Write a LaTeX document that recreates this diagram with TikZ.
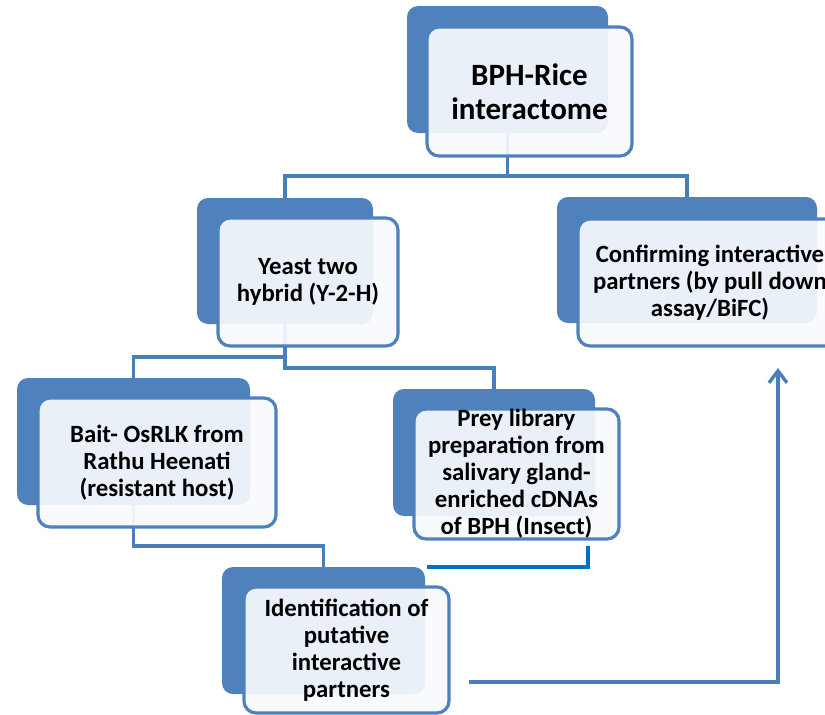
\documentclass[tikz,border=0pt]{standalone}
\usepackage{fontspec}
\setmainfont{Carlito}
\usetikzlibrary{arrows.meta,backgrounds}
\definecolor{boxblue}{HTML}{4F81BD}
\definecolor{linkblue}{HTML}{4A7EBB}
\definecolor{brightblue}{HTML}{0070C0}
\definecolor{frontfill}{HTML}{F8FAFD}
\begin{document}
\begin{tikzpicture}[x=1pt,y=-1pt,
  backbox/.style 2 args={draw=none, fill=boxblue, rounded corners=11pt,
    minimum width=#1pt, minimum height=#2pt, inner sep=0pt, outer sep=0pt},
  frontbox/.style 2 args={draw=boxblue, line width=3.2pt, fill=frontfill,
    fill opacity=0.92, text opacity=1, rounded corners=12pt, align=center,
    minimum width=#1pt, minimum height=#2pt, inner sep=0pt, outer sep=0pt,
    font=\bfseries\fontsize{24.8}{27}\selectfont},
  link/.style={draw=linkblue, line width=3.4pt},
  linkbright/.style={draw=brightblue, line width=3.4pt}]
\useasboundingbox (0,0) rectangle (825,715);
% back boxes
\node[backbox={201}{127}] (topB) at (507.5,69.5) {};
\node[backbox={176}{126}] (yeastB) at (285,261) {};
\node[backbox={260}{126}] (confB) at (687,260) {};
\node[backbox={233}{127}] (baitB) at (133.5,441.5) {};
\node[backbox={202}{127}] (preyB) at (494,452.5) {};
\node[backbox={203}{127}] (identB) at (323.5,630.5) {};
% front boxes
\node[frontbox={205}{129}, font=\bfseries\fontsize{31}{34}\selectfont] (topF) at (529.5,91.5) {BPH-Rice\\interactome};
\node[frontbox={180}{128}] (yeastF) at (308,282) {Yeast two\\hybrid (Y-2-H)};
\node[frontbox={264}{127}] (confF) at (710,282.5) {Confirming interactive\\partners (by pull down\\assay/BiFC)};
\node[frontbox={238}{129}] (baitF) at (157,462.5) {Bait- OsRLK from\\Rathu Heenati\\(resistant host)};
\node[frontbox={205}{130}] (preyF) at (516.5,474) {Prey library\\preparation from\\salivary gland-\\enriched cDNAs\\of BPH (Insect)};
\node[frontbox={205}{126}] (identF) at (346.5,650) {Identification of\\putative\\interactive\\partners};
% connectors
\coordinate (p1) at (588,546);
\coordinate (p2) at (427,567);
\coordinate (a0) at (469,682);
\coordinate (a1) at (778,368);
\begin{pgfonlayer}{background}
\draw[link] (topB.south) -- ++(0,43) coordinate (j1) -| (yeastB.north);
\draw[link] (j1) -| (confB.north);
\draw[link] (yeastB.south) -- ++(0,33) -| (baitB.north);
\draw[link] (yeastB.south) -- ++(0,44) -| (preyB.north);
\draw[link] (baitB.south) -- ++(0,41) -| (identB.north);
\end{pgfonlayer}
\draw[linkbright] (p1) |- (p2);
\draw[link, -{Straight Barb[length=12pt,width=18pt]}] (a0) -| (a1);
\end{tikzpicture}
\end{document}
